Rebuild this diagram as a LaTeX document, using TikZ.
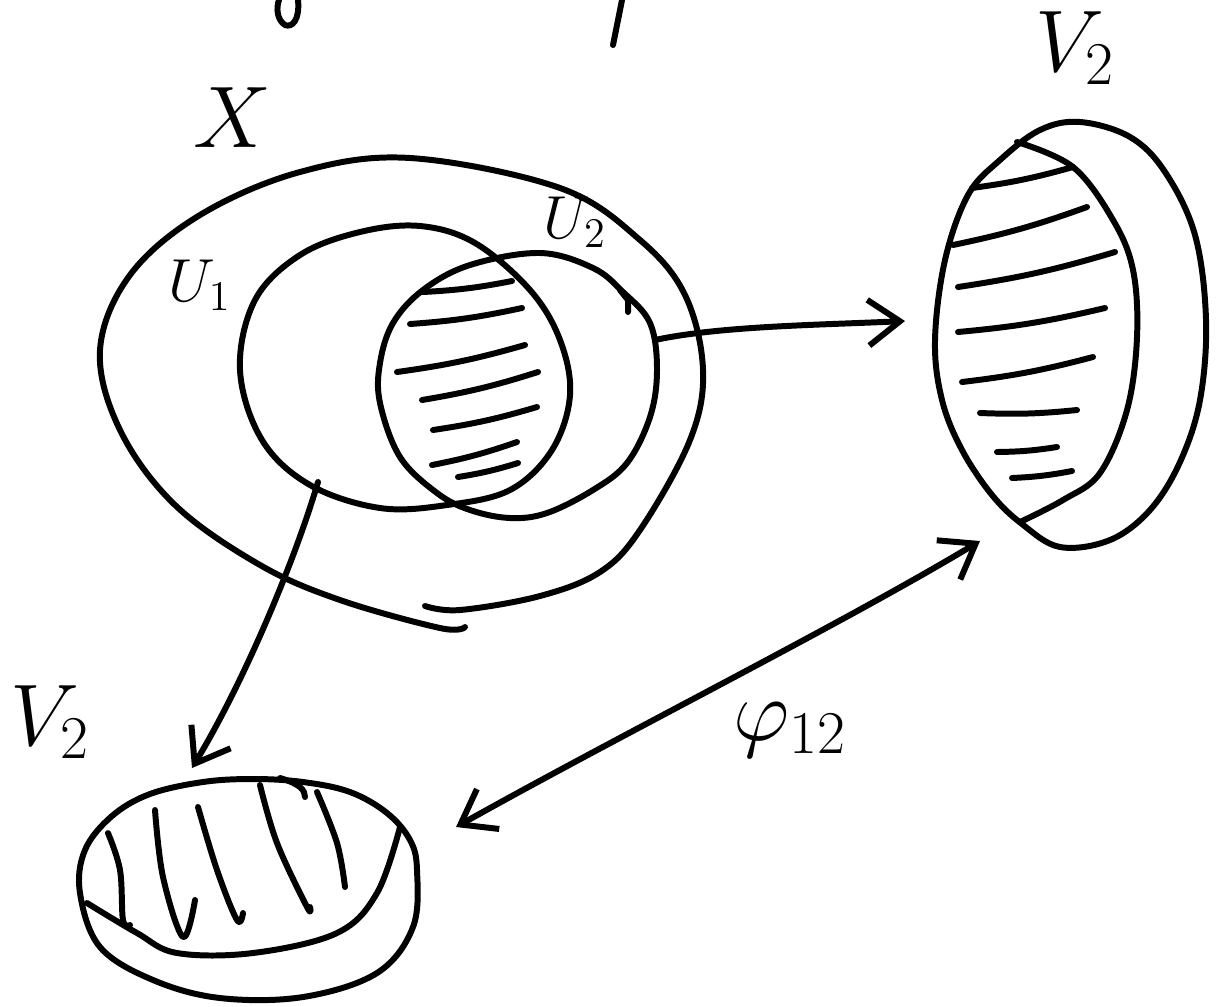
\documentclass[tikz,border=0pt]{standalone}
\usepackage{amsmath}
\usepackage{amssymb}
\usetikzlibrary{arrows.meta, positioning}

\begin{document}
\begin{tikzpicture}[x=0.01cm, y=-0.01cm, >={Straight Barb[length=9pt, width=13pt]},
    pen/.style={line width=1.7pt, line cap=round, line join=round},
    big/.style={inner sep=0pt, font=\fontsize{26}{30}\selectfont},
    small/.style={inner sep=0pt, font=\fontsize{17}{20}\selectfont}]
    \useasboundingbox (0,0) rectangle (1216,1006);

    % cut off strokes at the top edge
    \draw[pen] (298,0) .. controls (300,20) and (292,28) .. (285,25) .. controls (277,20) and (276,8) .. (279,0);
    \draw[pen] (622,0) -- (613,45);

    % the space X
    \draw[pen] plot[smooth, tension=0.6] coordinates {(425,606) (460,610) (540,596) (600,572) (640,530) (690,440) (703,370) (685,295) (640,240) (560,188) (410,158) (300,172) (200,215) (130,275) (100,350) (120,430) (175,505) (260,565) (340,600) (440,628) (465,627)};

    % U1 and U2
    \draw[pen] plot[smooth cycle, tension=0.6] coordinates {(240,370) (255,300) (300,255) (360,232) (420,226) (475,243) (530,290) (560,340) (570,395) (552,450) (510,490) (447,505) (380,508) (310,485) (262,440)};
    \draw[pen] plot[smooth cycle, tension=0.6] coordinates {(423,290) (470,265) (540,253) (593,268) (623,292) (650,323) (657,370) (650,417) (627,463) (593,490) (547,513) (510,518) (470,510) (437,493) (400,457) (380,403) (380,363) (393,323)};
    \draw[pen] (620,290) -- (628,300) -- (628,312);
    \foreach \xa/\ya/\xb/\yb in {423/292/512/281, 410/324/522/308, 397/372/525/345, 422/400/538/372,
        433/430/537/407, 432/465/517/442, 458/477/518/463}
        \draw[pen] (\xa,\ya) to[bend right=4] (\xb,\yb);

    % V2 on the right
    \draw[pen] plot[smooth cycle, tension=0.6] coordinates {(1060,547) (1110,540) (1150,510) (1180,462) (1200,400) (1206,320) (1195,235) (1165,172) (1130,137) (1080,122) (1040,130) (1000,160) (968,195) (945,260) (935,340) (942,400) (962,450) (992,495) (1022,524)};
    \draw[pen] plot[smooth, tension=0.6] coordinates {(1017,142) (1073,167) (1113,220) (1133,270) (1137,337) (1127,410) (1100,473) (1063,500) (1020,522)};
    \foreach \xa/\ya/\xb/\yb in {972/188/1073/167, 953/245/1087/207, 958/287/1115/252, 958/332/1105/308,
        962/382/1093/357, 980/413/1077/410, 997/452/1057/447, 1012/478/1072/471}
        \draw[pen] (\xa,\ya) to[bend right=4] (\xb,\yb);

    % V2 at the bottom left
    \draw[pen] plot[smooth cycle, tension=0.6] coordinates {(85,850) (112,816) (150,794) (203,782) (253,779) (303,782) (350,792) (387,813) (410,840) (417,870) (413,927) (377,973) (303,997) (220,998) (153,980) (100,947) (80,893)};
    \draw[pen] plot[smooth, tension=0.6] coordinates {(87,903) (137,933) (177,953) (253,953) (337,933) (377,893) (400,827)};
    \draw[pen] plot[smooth, tension=0.6] coordinates {(108,833) (120,870) (123,920) (130,925)};
    \draw[pen] plot[smooth, tension=0.6] coordinates {(155,810) (163,877) (183,937) (195,900)};
    \draw[pen] plot[smooth, tension=0.6] coordinates {(198,807) (217,870) (237,920) (243,913)};
    \draw[pen] plot[smooth, tension=0.6] coordinates {(260,785) (277,843) (307,907) (310,907)};
    \draw[pen] plot[smooth, tension=0.6] coordinates {(317,792) (337,843) (345,887)};
    \draw[pen] (280,778) .. controls (300,784) and (305,790) .. (305,797);

    % ends of the maps
    \coordinate (u2out) at (655,340);
    \coordinate (v2in) at (905,321);
    \coordinate (u1out) at (318,482);
    \coordinate (v1in) at (192,768);
    \coordinate (v1end) at (456,827);
    \coordinate (v2end) at (980,541);

    \draw[pen, ->] (u2out) .. controls (720,326) and (820,325) .. (v2in);
    \draw[pen, ->] (u1out) .. controls (295,560) and (245,680) .. (v1in);
    \draw[pen, <->] (v1end) .. controls (620,735) and (840,625) .. (v2end);

    % labels
    \node[big] (lX) at (232,118) {$X$};
    \node[small] (lU1) at (200,285) {$U_1$};
    \node[small] (lU2) at (575,222) {$U_2$};
    \node[big] (lV2) at (1075,48) {$V_2$};
    \node[big] (lV1) at (50,722) {$V_2$};
    \node[big] (lphi) at (790,730) {$\varphi_{12}$};
\end{tikzpicture}
\end{document}
